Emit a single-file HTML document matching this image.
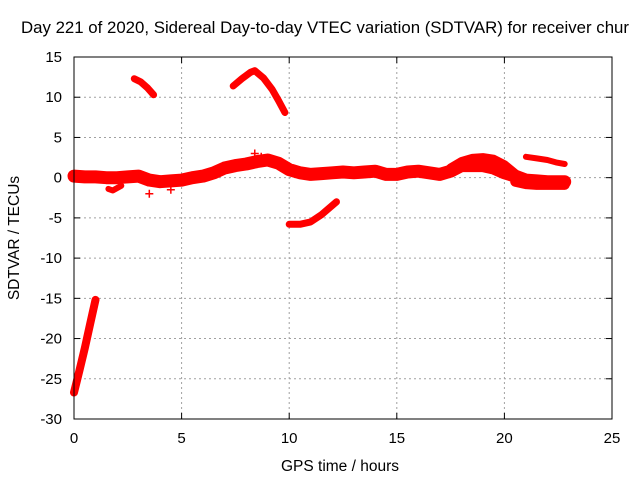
<!DOCTYPE html>
<html><head><meta charset="utf-8"><style>
body{margin:0;background:#fff;}
svg{display:block;font-family:"Liberation Sans",Arial,sans-serif;}
</style></head><body>
<svg id="chart" width="640" height="480" xmlns="http://www.w3.org/2000/svg">
<rect width="640" height="480" fill="#fff"/>
<text x="325" y="33" font-size="16.3" text-anchor="middle" textLength="608" lengthAdjust="spacingAndGlyphs">Day 221 of 2020, Sidereal Day-to-day VTEC variation (SDTVAR) for receiver chur</text>
<text x="340" y="471" font-size="15.5" text-anchor="middle">GPS time / hours</text>
<text transform="translate(19,238) rotate(-90)" font-size="15.5" text-anchor="middle">SDTVAR / TECUs</text>
<g id="grid"></g>
<g id="ticks"></g>
<g id="series"></g>
<rect x="74" y="57" width="538" height="362" fill="none" stroke="#000" stroke-width="1"/>
</svg>
<script>
const xTicks=[0,5,10,15,20,25];
const yTicks=[15,10,5,0,-5,-10,-15,-20,-25,-30];
const mainX=[0,0.5,1,1.5,2,2.5,3,3.5,4,4.5,5,5.5,6,6.5,7,7.5,8,8.5,9,9.5,10,10.5,11,11.5,12,12.5,13,13.5,14,14.5,15,15.5,16,16.5,17,17.5,18,18.5,19,19.5,20,20.5,21,21.5,22,22.5,22.8];
const mainY=[0.2,0.1,0.1,0,0,0.1,0.2,-0.3,-0.5,-0.4,-0.3,0,0.2,0.6,1.2,1.5,1.7,2,2.2,1.8,1,0.6,0.4,0.5,0.6,0.7,0.6,0.7,0.8,0.4,0.4,0.7,0.8,0.6,0.4,0.8,1.5,1.5,1.5,1.2,0.6,0.2,-0.3,-0.4,-0.5,-0.5,-0.5];
const upperX=[17.5,18,18.5,19,19.5,20,20.5];
const upperY=[1.2,2,2.4,2.5,2.3,1.6,0.5];
const lowerRightX=[20.5,21,21.5,22,22.5,22.8];
const lowerRightY=[-0.5,-0.8,-0.9,-0.9,-0.9,-0.9];
const branchX=[21,21.5,22,22.4,22.8];
const branchY=[2.6,2.4,2.2,1.9,1.7];
const arcX=[7.4,7.8,8.2,8.4,8.8,9.2,9.5,9.8];
const arcY=[11.4,12.3,13.1,13.3,12.4,11,9.6,8.1];
const segX=[2.8,3.1,3.4,3.7];
const segY=[12.3,11.9,11.2,10.3];
const lowX=[10,10.5,11,11.5,12.2];
const lowY=[-5.8,-5.8,-5.5,-4.6,-3];
const steepX=[0,0.25,0.5,0.75,1];
const steepY=[-26.7,-24,-21.2,-18.2,-15.2];
const patchX=[1.6,1.8,2,2.2];
const patchY=[-1.4,-1.6,-1.3,-1];
const plusX=[8.4,8.7,3.5,4.5,12.2,11.6];
const plusY=[3,2.6,-2,-1.5,0.9,0.8];
const NS='http://www.w3.org/2000/svg';
function sx(v){return 74+v*538/25;}
function sy(v){return 57+(15-v)*362/45;}
const grid=document.getElementById('grid'),ticks=document.getElementById('ticks'),ser=document.getElementById('series');
function mk(tag,attrs,parent){const e=document.createElementNS(NS,tag);for(const k in attrs)e.setAttribute(k,attrs[k]);parent.appendChild(e);return e;}
xTicks.forEach(t=>{
 const x=sx(t);
 if(t>0&&t<25){const l=mk('line',{x1:x,x2:x,y1:57,y2:419,stroke:'#a0a0a0','stroke-dasharray':'2,3'},grid);}
 mk('line',{x1:x,x2:x,y1:419,y2:413,stroke:'#000'},ticks);mk('line',{x1:x,x2:x,y1:57,y2:63,stroke:'#000'},ticks);
 const tx=mk('text',{x:x,y:443,'font-size':15,'text-anchor':'middle'},ticks);tx.textContent=t;
 
});
yTicks.forEach(t=>{
 const y=sy(t);
 if(t<15&&t>-30){const l=mk('line',{x1:74,x2:612,y1:y,y2:y,stroke:'#a0a0a0','stroke-dasharray':'2,3'},grid);}
 mk('line',{x1:74,x2:80,y1:y,y2:y,stroke:'#000'},ticks);mk('line',{x1:612,x2:606,y1:y,y2:y,stroke:'#000'},ticks);
 const tx=mk('text',{x:62,y:y+5,'font-size':15,'text-anchor':'end'},ticks);tx.textContent=t;
 
});
function band(xs,ys,w,name){
 const pts=xs.map((x,i)=>sx(x).toFixed(1)+','+sy(ys[i]).toFixed(1)).join(' ');
 const p=mk('polyline',{points:pts,fill:'none',stroke:'#ff0000','stroke-width':w,'stroke-linejoin':'round','stroke-linecap':'round'},ser);
 
 
}
band(mainX,mainY,13,'main-band');
band(upperX,upperY,9,'upper-band');
band(lowerRightX,lowerRightY,10,'lower-right-band');
band(branchX,branchY,6,'branch-band');
band(arcX,arcY,7,'arc-segment');
band(segX,segY,7,'early-segment');
band(lowX,lowY,7,'low-segment');
band(steepX,steepY,8,'steep-segment');
band(patchX,patchY,6,'small-patch');
plusX.forEach((x,i)=>{
 const cx=sx(x),cy=sy(plusY[i]);
 const p=mk('path',{d:`M${cx-4},${cy}H${cx+4}M${cx},${cy-4}V${cy+4}`,stroke:'#ff0000','stroke-width':1.5},ser);
 
 
});
</script>
</body></html>
